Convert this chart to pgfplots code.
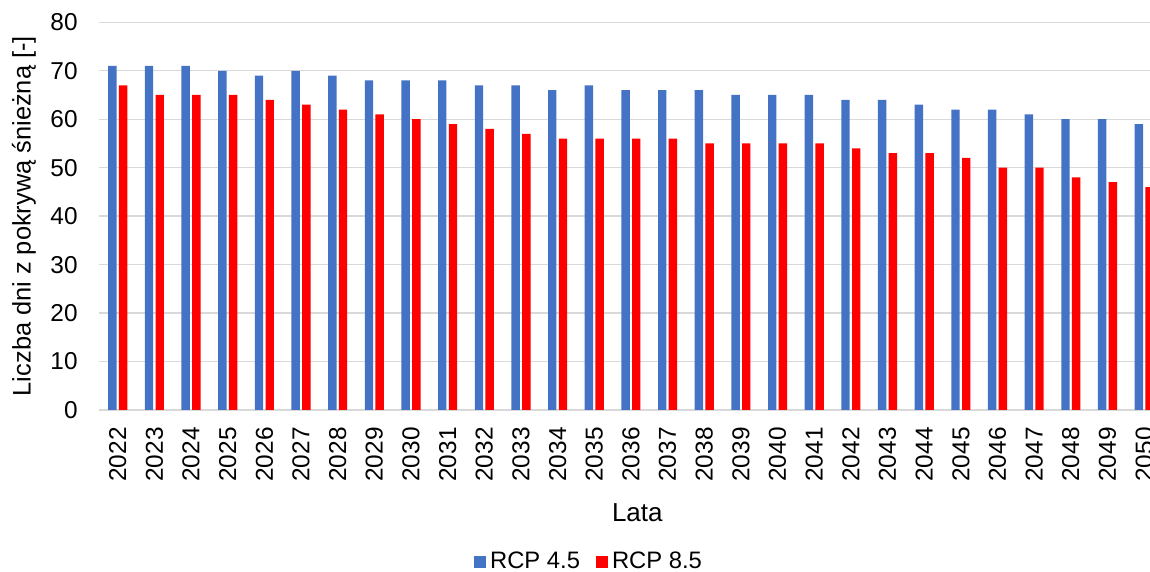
\documentclass[border=0pt]{standalone}
\usepackage{fontspec}
\setmainfont{Liberation Sans}
\usepackage{pgfplots}
\pgfplotsset{compat=1.18}
\definecolor{cblue}{HTML}{4472C4}
\definecolor{cred}{HTML}{FF0000}
\definecolor{cgrid}{HTML}{D9D9D9}
\begin{document}
\fontsize{12pt}{14.4pt}\selectfont
\begin{tikzpicture}
\begin{axis}[
  at={(0,0)}, anchor=south west, scale only axis,
  width=525.3pt, height=193.85pt,
  xmin=-0.5, xmax=28.16, ymin=0, ymax=80,
  ybar=1.15pt, bar width=4.2pt,
  axis line style={draw=none},
  major tick length=0pt,
  ytick={0,10,...,80},
  ymajorgrids, grid style={cgrid, line width=0.7pt},
  xtick={0,...,28},
  xticklabels={2022,2023,2024,2025,2026,2027,2028,2029,2030,2031,2032,2033,2034,2035,2036,2037,2038,2039,2040,2041,2042,2043,2044,2045,2046,2047,2048,2049,2050},
  /pgf/number format/assume math mode=true,
  tick label style={font=\fontsize{12.2pt}{14pt}\selectfont},
  xticklabel style={rotate=90, anchor=east, xshift=-4.5pt},
  yticklabel style={xshift=-6.7pt},
  ylabel={Liczba dni z pokrywą śnieżną [-]},
  ylabel style={at={([xshift=-37.7pt]axis description cs:0,0.5)}, anchor=center, font=\fontsize{12.7pt}{15pt}\selectfont},
  xlabel={Lata},
  xlabel style={at={([yshift=-51.5pt]axis description cs:0.512,0)}, anchor=center, font=\fontsize{13pt}{15pt}\selectfont},
  legend columns=2,
  legend style={at={([yshift=-76pt]axis description cs:0.467,0)}, anchor=center, draw=none, fill=none,
    font=\fontsize{11.9pt}{14pt}\selectfont,
    /tikz/every even column/.append style={column sep=6pt}},
  legend image code/.code={\fill[#1] (0pt,-3pt) rectangle (6pt,3pt);},
]
\addplot[fill=cblue, draw=none] coordinates {
(0,71) (1,71) (2,71) (3,70) (4,69) (5,70) (6,69) (7,68) (8,68) (9,68)
(10,67) (11,67) (12,66) (13,67) (14,66) (15,66) (16,66) (17,65) (18,65) (19,65)
(20,64) (21,64) (22,63) (23,62) (24,62) (25,61) (26,60) (27,60) (28,59)};
\addlegendentry{RCP 4.5}
\addplot[fill=cred, draw=none] coordinates {
(0,67) (1,65) (2,65) (3,65) (4,64) (5,63) (6,62) (7,61) (8,60) (9,59)
(10,58) (11,57) (12,56) (13,56) (14,56) (15,56) (16,55) (17,55) (18,55) (19,55)
(20,54) (21,53) (22,53) (23,52) (24,50) (25,50) (26,48) (27,47) (28,46)};
\addlegendentry{RCP 8.5}
\end{axis}
\pgfresetboundingbox
\path[use as bounding box] (-49.7pt,-81pt) rectangle (525.3pt,205pt);
\end{tikzpicture}
\end{document}
